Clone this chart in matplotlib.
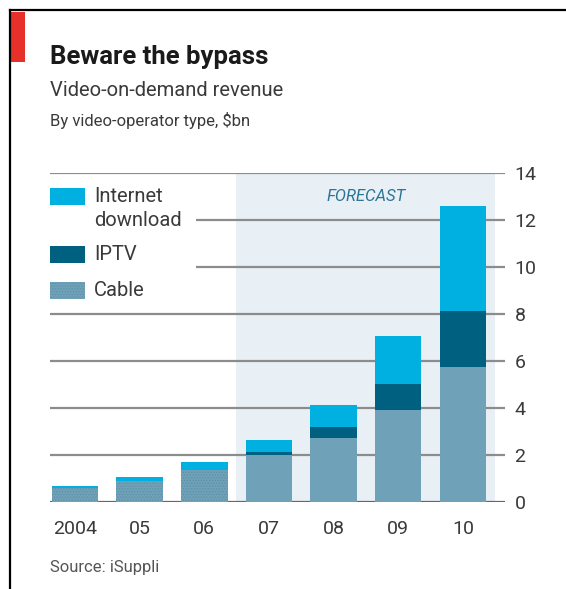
import matplotlib.pyplot as plt
import matplotlib as mpl
from matplotlib.patches import Rectangle

plt.rcParams['font.family'] = ['Roboto', 'DejaVu Sans']
plt.rcParams['hatch.linewidth'] = 0.6

years = ['2004', '05', '06', '07', '08', '09', '10']
cable = [0.58, 0.89, 1.36, 2.0, 2.74, 3.93, 5.75]
iptv = [0.0, 0.0, 0.0, 0.11, 0.45, 1.07, 2.36]
internet = [0.10, 0.16, 0.33, 0.53, 0.92, 2.07, 4.49]
yticks = [0, 2, 4, 6, 8, 10, 12, 14]
forecast_from = 3  # index of 07

c_net = '#00b0e0'
c_iptv = '#00607f'
c_cable = '#6fa2b8'
c_shade = '#e8f0f5'
c_grid = '#8c8c8c'
c_text = '#3a3a3a'

fig = plt.figure(figsize=(5.66, 5.89), dpi=100)
ax = fig.add_axes([0.088, 0.1477, 0.804, 0.5586])

x = list(range(len(years)))
xmin, xmax = -0.39, 6.65
ax.set_xlim(xmin, xmax)
ax.set_ylim(0, 14)

# forecast shading
ax.axvspan(forecast_from - 0.51, len(years) - 0.51, color=c_shade, zorder=0, lw=0)
ax.text(4.5, 13.0, 'FORECAST', ha='center', va='center', fontsize=12,
        style='italic', color='#2a7595', zorder=3)

# gridlines (12 and 10 stop short of the legend)
for t in yticks:
    start = 1.87 if t in (10, 12) else xmin
    ax.hlines(t, start, xmax, color=c_grid if t else '#666666', lw=1.6, zorder=1)

w = 0.72
hatches = ['......' if i < forecast_from else None for i in x]
for i in x:
    ax.bar(i, cable[i], w, color=c_cable, edgecolor='#5d90a6' if hatches[i] else c_cable,
           hatch=hatches[i], lw=0, zorder=2)
bot2 = [c + p for c, p in zip(cable, iptv)]
ax.bar(x, iptv, w, bottom=cable, color=c_iptv, lw=0, zorder=2)
ax.bar(x, internet, w, bottom=bot2, color=c_net, lw=0, zorder=2)

for s in ax.spines.values():
    s.set_visible(False)
ax.yaxis.tick_right()
ax.set_yticks(yticks)
ax.set_yticklabels([str(t) for t in yticks], fontsize=14, color=c_text)
ax.set_xticks(x)
ax.set_xticklabels(years, fontsize=14, color=c_text)
ax.tick_params(length=0, pad=13)
ax.tick_params(axis='y', pad=7)

# legend
leg = [(c_net, None, ['Internet', 'download']), (c_iptv, None, ['IPTV']),
       (c_cable, '......', ['Cable'])]
ly = [12.99, 10.53, 9.0]
for (col, h, lab), yy in zip(leg, ly):
    ax.add_patch(Rectangle((xmin, yy - 0.36), 0.54, 0.72, facecolor=col,
                           edgecolor='#5d90a6' if h else col, hatch=h, lw=0,
                           zorder=3, clip_on=False))
    ax.text(xmin + 0.68, yy + 0.02, lab[0], fontsize=14.5, color=c_text, va='center')
    if len(lab) > 1:
        ax.text(xmin + 0.68, yy - 1.0, lab[1], fontsize=14.5, color=c_text, va='center')

# titles and frame
fig.text(0.088, 0.904, 'Beware the bypass', fontsize=18.5, fontweight='bold',
         color='#1a1a1a', va='center')
fig.text(0.088, 0.847, 'Video-on-demand revenue', fontsize=14.5, color=c_text, va='center')
fig.text(0.088, 0.796, 'By video-operator type, $bn', fontsize=12, color=c_text, va='center')
fig.text(0.088, 0.037, 'Source: iSuppli', fontsize=12, color='#555555', va='center')
fig.patches.append(Rectangle((10 / 566, 1 - 62 / 589), 15 / 566, 50 / 589,
                             transform=fig.transFigure, color='#e8302a', lw=0))
fig.lines.append(mpl.lines.Line2D([9.5 / 566, 1], [1 - 10 / 589] * 2,
                                  transform=fig.transFigure, color='black', lw=1.6))
fig.lines.append(mpl.lines.Line2D([9.5 / 566] * 2, [0, 1 - 10 / 589],
                                  transform=fig.transFigure, color='black', lw=1.6))

fig.savefig('out.png', dpi=100)
